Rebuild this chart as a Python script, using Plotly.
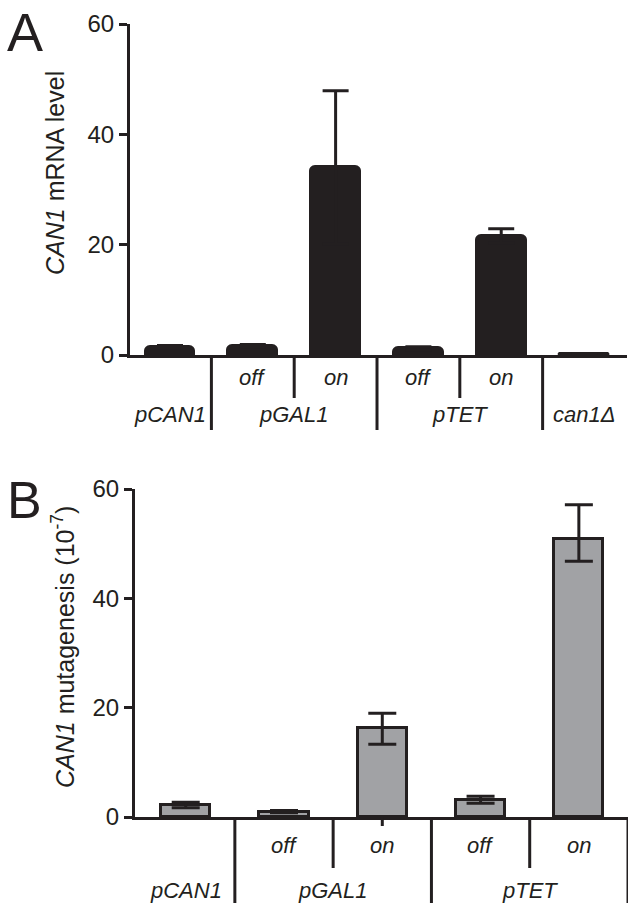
import plotly.graph_objects as go

# ---------------- data ----------------
A_groups = ["pCAN1", "pGAL1", "pGAL1", "pTET", "pTET", "can1Δ"]
A_conditions = ["", "off", "on", "off", "on", ""]
A_values = [1.5, 1.7, 34.0, 1.2, 21.6, 0.2]
A_err = [0.2, 0.2, 13.9, 0.3, 1.3, 0.05]

B_groups = ["pCAN1", "pGAL1", "pGAL1", "pTET", "pTET"]
B_conditions = ["", "off", "on", "off", "on"]
B_values = [2.2, 1.0, 16.2, 3.2, 50.9]
B_err_plus = [0.5, 0.2, 2.8, 0.6, 6.2]
B_err_minus = [0.5, 0.2, 2.9, 0.7, 4.1]

y_ticks = [0, 20, 40, 60]

# ---------------- layout helpers ----------------
W, H = 634, 911
INK = "#231f20"
FONT = "Liberation Sans, Arial, sans-serif"


def fx(px):
    return px / W


def fy(py):
    return 1 - py / H


fig = go.Figure()

xa = list(range(len(A_values)))
fig.add_trace(go.Bar(
    x=xa, y=A_values, width=0.59,
    marker=dict(color=INK, line=dict(color=INK, width=3), cornerradius=5),
    error_y=dict(type="data", array=A_err, symmetric=True,
                 color=INK, thickness=3, width=13),
    xaxis="x", yaxis="y", showlegend=False, hoverinfo="skip",
))

xb = list(range(len(B_values)))
fig.add_trace(go.Bar(
    x=xb, y=B_values, width=0.5,
    marker=dict(color="#a1a2a5", line=dict(color=INK, width=3)),
    error_y=dict(type="data", array=B_err_plus, arrayminus=B_err_minus,
                 symmetric=False, color=INK, thickness=3, width=14),
    xaxis="x2", yaxis="y2", showlegend=False, hoverinfo="skip",
))

A_left, A_right, A_top, A_bot = 130, 627, 24, 355
B_left, B_right, B_top, B_bot = 135, 628, 489, 817

axis_common = dict(showline=True, linewidth=3, linecolor=INK, automargin=False,
                   showgrid=False, zeroline=False, fixedrange=True)
yaxis_common = dict(axis_common, range=[0, 60], tickvals=y_ticks,
                    ticks="outside", ticklen=8, tickwidth=3, tickcolor=INK,
                    tickfont=dict(family=FONT, size=24, color=INK))

fig.update_layout(
    width=W, height=H, autosize=False,
    margin=dict(l=0, r=0, t=0, b=0, pad=0),
    paper_bgcolor="white", plot_bgcolor="white",
    bargap=0,
    xaxis=dict(axis_common, domain=[fx(A_left), fx(A_right)],
               range=[-0.483, 5.519], showticklabels=False, ticks="",
               anchor="y"),
    yaxis=dict(yaxis_common, domain=[fy(A_bot), fy(A_top)], anchor="x"),
    xaxis2=dict(axis_common, domain=[fx(B_left), fx(B_right)],
                range=[-0.516, 4.5], showticklabels=False, ticks="",
                anchor="y2"),
    yaxis2=dict(yaxis_common, domain=[fy(B_bot), fy(B_top)], anchor="x2"),
)

shapes = []
annotations = []


def add_panel_labels(groups, conditions, xref, bot_px, cond_py, group_py,
                     long_px, short_px, right_end):
    n = len(groups)
    for i in range(n - 1):
        pos = i + 0.5
        same_group = groups[i] == groups[i + 1]
        end = short_px if same_group else long_px
        shapes.append(dict(type="line", xref=xref, yref="paper",
                           x0=pos, x1=pos, y0=fy(bot_px), y1=fy(end),
                           line=dict(color=INK, width=3)))
    if right_end:
        pos = n - 0.5
        shapes.append(dict(type="line", xref=xref, yref="paper",
                           x0=pos, x1=pos, y0=fy(bot_px), y1=fy(long_px),
                           line=dict(color=INK, width=3)))
    for i, c in enumerate(conditions):
        if c:
            annotations.append(dict(text=f"<i>{c}</i>", xref=xref, yref="paper",
                                    x=i, y=fy(cond_py), showarrow=False,
                                    xanchor="center", yanchor="middle",
                                    font=dict(family=FONT, size=22, color=INK)))
    seen = []
    for g in groups:
        if g not in seen:
            seen.append(g)
    for g in seen:
        idx = [i for i, gg in enumerate(groups) if gg == g]
        cx = sum(idx) / len(idx)
        annotations.append(dict(text=f"<i>{g}</i>", xref=xref, yref="paper",
                                x=cx, y=fy(group_py), showarrow=False,
                                xanchor="center", yanchor="middle",
                                font=dict(family=FONT, size=22, color=INK)))


add_panel_labels(A_groups, A_conditions, "x", A_bot, 378, 414, 430, 398, False)
add_panel_labels(B_groups, B_conditions, "x2", B_bot, 845, 890, 903, 868, True)

# small stray tick under pGAL1 "on" bar in panel B
shapes.append(dict(type="line", xref="x2", yref="paper", x0=2, x1=2,
                   y0=fy(B_bot), y1=fy(826), line=dict(color=INK, width=3)))

annotations.append(dict(text="<i>CAN1</i> mRNA level", xref="paper", yref="paper",
                        x=fx(55), y=fy(173), textangle=-90, showarrow=False,
                        xanchor="center", yanchor="middle",
                        font=dict(family=FONT, size=25, color=INK)))
annotations.append(dict(text="<i>CAN1</i> mutagenesis (10<sup>-7</sup>)",
                        xref="paper", yref="paper",
                        x=fx(63), y=fy(647), textangle=-90, showarrow=False,
                        xanchor="center", yanchor="middle",
                        font=dict(family=FONT, size=25, color=INK)))

annotations.append(dict(text="A", xref="paper", yref="paper", x=fx(5), y=1,
                        showarrow=False, xanchor="left", yanchor="top",
                        font=dict(family=FONT, size=54, color=INK)))
annotations.append(dict(text="B", xref="paper", yref="paper", x=fx(5), y=fy(500),
                        showarrow=False, xanchor="left", yanchor="middle",
                        font=dict(family=FONT, size=52, color=INK)))

fig.update_layout(shapes=shapes, annotations=annotations)

fig.write_html("out.html", config={"displayModeBar": False},
               post_script="document.body.style.margin='0';")
